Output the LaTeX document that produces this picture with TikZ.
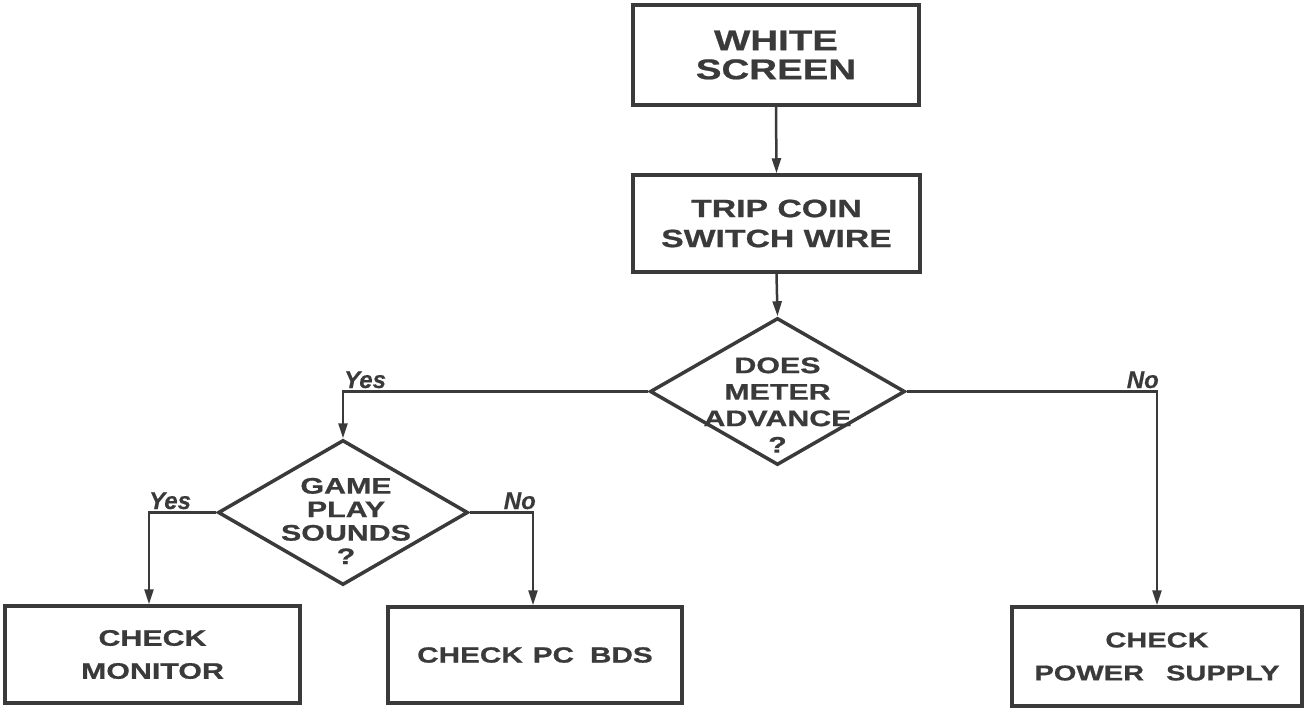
\documentclass[tikz,border=0pt]{standalone}
\usepackage{fontspec}
\setmainfont{Liberation Sans}
\newfontfamily\ext{Liberation Sans}[FakeStretch=1.35,FakeBold=0.8]
\newfontfamily\labfont{Liberation Sans}[FakeBold=0.5]
\usetikzlibrary{arrows.meta,shapes.geometric,calc}
\definecolor{ink}{HTML}{3A3A3A}
\begin{document}
\begin{tikzpicture}[x=1pt,y=-1pt,
  box/.style={draw=ink, line width=3.5pt, rectangle, inner sep=0pt, text=ink, align=center},
  dia/.style={draw=ink, line width=3.5pt, diamond, inner sep=0pt},
  dtxt/.style={text=ink, inner sep=0pt, align=center},
  arr/.style={draw=ink, line width=2.5pt, -{Triangle[length=15pt,width=9pt]}},
  lab/.style={text=ink, inner sep=0pt, font=\labfont\bfseries\itshape\fontsize{24}{24}\selectfont}]
\useasboundingbox (0,0) rectangle (1307,709);

\node[box, minimum width=286pt, minimum height=100pt,
  font=\ext\bfseries\fontsize{28.5}{29}\selectfont] (white) at (776,55) {WHITE\\SCREEN};
\node[box, minimum width=287pt, minimum height=97pt,
  font=\ext\bfseries\fontsize{25}{30}\selectfont] (trip) at (776.5,223.5) {TRIP COIN\\SWITCH WIRE};
\node[dia, minimum width=255pt, minimum height=147pt] (d1) at (777.5,391.5) {};
\node[dtxt, font=\ext\bfseries\fontsize{22.5}{26.5}\selectfont] (d1t) at (777.5,405)
  {DOES\\METER\\ADVANCE\\?};
\node[dia, minimum width=250pt, minimum height=145pt] (d2) at (343,512.5) {};
\node[dtxt, font=\ext\bfseries\fontsize{22.5}{23.5}\selectfont] (d2t) at (346,521)
  {GAME\\PLAY\\SOUNDS\\?};
\node[box, minimum width=295pt, minimum height=97pt,
  font=\ext\bfseries\fontsize{22.5}{33}\selectfont] (mon) at (152.5,654.5) {CHECK\\MONITOR};
\node[box, minimum width=294pt, minimum height=96pt,
  font=\ext\bfseries\fontsize{22}{30}\selectfont] (pc) at (535,655)
  {CHECK\hspace{10pt}PC\hspace{16pt}BDS};
\node[box, minimum width=290pt, minimum height=99pt,
  font=\ext\bfseries\fontsize{21.5}{33}\selectfont] (ps) at (1157,656.5)
  {CHECK\\POWER\hspace{22pt}SUPPLY};

\draw[arr] (white.south) -- (trip.north);
\draw[arr] (trip.south) -- (d1.north);
\draw[arr] (d1.west) -| (d2.north);
\draw[arr] (d1.east) -| (ps.north);
\draw[arr] (d2.west) -| ([xshift=-3.5pt]mon.north);
\draw[arr] (d2.east) -| ([xshift=-2pt]pc.north);

\node[lab, anchor=base west] (yes1) at (344,388) {Yes};
\node[lab, anchor=base east] (no1) at (1159,388) {No};
\node[lab, anchor=base west] (yes2) at (149,509) {Yes};
\node[lab, anchor=base east] (no2) at (536,509) {No};
\end{tikzpicture}
\end{document}
